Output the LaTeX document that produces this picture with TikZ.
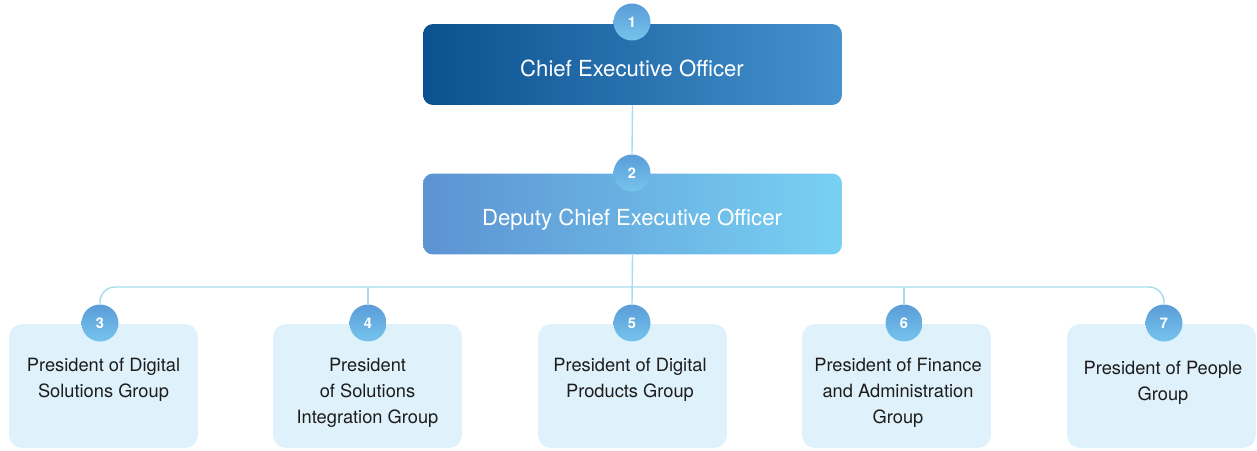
\documentclass[tikz,border=0pt]{standalone}
\usepackage{fontspec}
\setmainfont{TeX Gyre Heros}
\begin{document}
\begin{tikzpicture}[x=0.02cm,y=-0.02cm,
  topbox/.style={rounded corners=0.2cm, minimum width=8.38cm, minimum height=1.62cm, inner sep=0pt},
  groupbox/.style={rounded corners=0.26cm, fill=boxfill, minimum width=3.78cm, minimum height=2.48cm, inner sep=0pt},
  badge/.style={circle, minimum size=0.74cm, inner sep=0pt, top color=badgetop, bottom color=badgebot, draw=none,
    text=white, font=\bfseries\fontsize{8.3}{9}\selectfont},
  toptext/.style={text=white, font=\fontsize{12.6}{15}\selectfont},
  grouptext/.style={align=center, text=textdark, font=\fontsize{10.4}{14.8}\selectfont},
  link/.style={draw=linkblue, line width=0.8pt}]
\definecolor{ceoleft}{HTML}{0B508F}
\definecolor{ceoright}{HTML}{4592CF}
\definecolor{depleft}{HTML}{5C93D2}
\definecolor{depright}{HTML}{78D1F3}
\definecolor{boxfill}{HTML}{DFF2FB}
\definecolor{badgetop}{HTML}{5A9CD9}
\definecolor{badgebot}{HTML}{76C4EC}
\definecolor{linkblue}{HTML}{A6DCF2}
\definecolor{textdark}{HTML}{1C1C1C}
\useasboundingbox (0,0) rectangle (1257,450);

% height of the horizontal bus
\coordinate (bus) at (632,287);

% top two levels
\node[topbox, left color=ceoleft, right color=ceoright] (ceo) at (632.5,64.5) {};
\node[topbox, left color=depleft, right color=depright] (dep) at (632.5,214) {};
\node[toptext] (ceot) at (632,68) {Chief Executive Officer};
\node[toptext] (dept) at (632,220) {Deputy Chief Executive Officer};

% group boxes
\node[groupbox] (g3) at (103.5,386) {};
\node[groupbox] (g4) at (367.5,386) {};
\node[groupbox] (g5) at (632.5,386) {};
\node[groupbox] (g6) at (896.5,386) {};
\node[groupbox] (g7) at (1161.5,386) {};

% numbered badges
\node[badge] (c1) at (632,22) {1};
\node[badge] (c2) at (632,173) {2};
\node[badge] (c3) at (100,323) {3};
\node[badge] (c4) at (368,323) {4};
\node[badge] (c5) at (632,323) {5};
\node[badge] (c6) at (904,323) {6};
\node[badge] (c7) at (1164,323) {7};

% connectors
\path[link] (ceo.south) -- (c2.north);
\path[link] (dep.south) -- (c5.north);
\path[link, rounded corners=0.3cm] (c3.north) |- (bus) -| (c7.north);
\path[link] (c4.north) -- (c4.north |- bus);
\path[link] (c6.north) -- (c6.north |- bus);

% group titles
\node[grouptext] (t3) at (103.5,380) {President of Digital\\Solutions Group};
\node[grouptext] (t4) at (367.5,393) {President\\of Solutions\\Integration Group};
\node[grouptext] (t5) at (630,380) {President of Digital\\Products Group};
\node[grouptext] (t6) at (898,393) {President of Finance\\and Administration\\Group};
\node[grouptext] (t7) at (1163,383) {President of People\\Group};
\end{tikzpicture}
\end{document}
